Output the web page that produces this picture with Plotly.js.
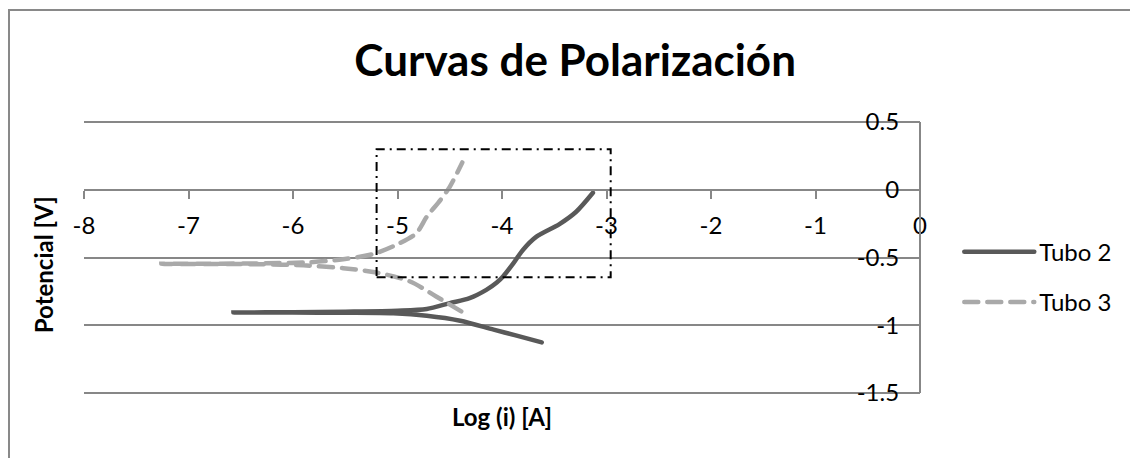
<!DOCTYPE html>
<html>
<head>
<meta charset="utf-8">
<script src="https://cdn.plot.ly/plotly-3.0.1.min.js"></script>
<style>
  body { margin: 0; background: #fff; }
  #chart { width: 1130px; height: 458px; }
  #frame {
    position: absolute; left: 8px; top: 9px; width: 1130px; height: 460px;
    border-left: 2px solid #898989; border-top: 2px solid #898989;
    pointer-events: none;
  }
  .scatterlayer path.js-line, .legend path.js-line { stroke-linecap: round; }
</style>
</head>
<body>
<div id="chart"></div>
<div id="frame"></div>
<script>
// Tubo 2: cathodic end -> minimum -> anodic end
const tubo2X = [-3.62, -3.86, -4.08, -4.40, -4.72, -5.04, -5.5, -6.0, -6.57,
                -6.0, -5.5, -5.0, -4.72, -4.50, -4.31, -4.15, -4.05, -3.99, -3.89, -3.80, -3.67, -3.45, -3.29, -3.13];
const tubo2Y = [-1.127, -1.077, -1.033, -0.967, -0.930, -0.912, -0.908, -0.907, -0.906,
                -0.904, -0.900, -0.893, -0.880, -0.837, -0.800, -0.739, -0.685, -0.640, -0.542, -0.444, -0.346, -0.253, -0.162, -0.022];

// Tubo 3
const tubo3X = [-4.39, -4.63, -4.88, -5.20, -5.52, -5.90, -6.30, -6.80, -7.26,
                -6.80, -6.30, -5.84, -5.52, -5.23, -4.98, -4.82, -4.72, -4.59, -4.50, -4.38];
const tubo3Y = [-0.898, -0.788, -0.677, -0.611, -0.579, -0.558, -0.550, -0.548, -0.547,
                -0.546, -0.543, -0.535, -0.513, -0.474, -0.395, -0.321, -0.199, -0.076, 0.022, 0.202];

const xTicks = [-8, -7, -6, -5, -4, -3, -2, -1, 0];
const xTickText = ['-8', '-7', '-6', '-5', '-4', '-3', '-2', '-1', '0'];
const yTicks = [-1.5, -1, -0.5, 0, 0.5];
const yTickText = ['-1.5', '-1', '-0.5', '0', '0.5'];

// dash-dot zoom box
const boxX = [-5.2, -2.96];
const boxY = [-0.645, 0.30];

const FONT = 'Lato, "Open Sans", sans-serif';
const GRID = '#878787';
const Y_RANGE = [-1.508, 0.508];   // small pad so the edge gridlines are not clipped
const X_AXIS_POS = (0 - Y_RANGE[0]) / (Y_RANGE[1] - Y_RANGE[0]);

const traces = [
  {
    name: 'Tubo 2', x: tubo2X, y: tubo2Y,
    type: 'scatter', mode: 'lines',
    line: { color: '#595959', width: 4.5, shape: 'spline', smoothing: 0.8 },
    legendgroup: 'a',
  },
  {
    name: 'Tubo 3', x: tubo3X, y: tubo3Y,
    type: 'scatter', mode: 'lines',
    line: { color: '#A9A9A9', width: 4.5, shape: 'spline', smoothing: 0.8, dash: '14px,9px' },
    legendgroup: 'b',
  },
];

const layout = {
  width: 1130, height: 458,
  margin: { l: 84, r: 210, t: 121, b: 64, pad: 0 },
  paper_bgcolor: '#fff', plot_bgcolor: '#fff',
  font: { family: FONT, size: 24, color: '#000' },
  title: {
    text: '<b>Curvas de Polarización</b>',
    font: { family: FONT, size: 44, color: '#000' },
    xref: 'container', yref: 'container',
    x: 0.509, y: 0.868, xanchor: 'center', yanchor: 'middle',
  },
  showlegend: true,
  legend: {
    x: 1.047, xanchor: 'left', y: 0.428, yanchor: 'middle',
    bgcolor: 'rgba(0,0,0,0)', font: { size: 24 },
    traceorder: 'grouped', tracegroupgap: 16, itemwidth: 70,
  },
  xaxis: {
    range: [-8, 0], anchor: 'free', position: X_AXIS_POS,
    tickvals: xTicks, ticktext: xTickText,
    showline: true, linecolor: GRID, linewidth: 2,
    ticks: 'outside', ticklen: 8, tickwidth: 2, tickcolor: GRID,
    showgrid: false, zeroline: false,
    ticklabelstandoff: 6,
  },
  // labels sit just left of the right-hand axis line (drawn as a shape below)
  yaxis: {
    range: Y_RANGE, side: 'left', anchor: 'free', position: 0.975,
    tickvals: yTicks, ticktext: yTickText,
    showline: false, ticks: '',
    showgrid: true, gridcolor: GRID, gridwidth: 2,
    zeroline: false,
  },
  shapes: [
    {
      type: 'line', xref: 'paper', yref: 'y',
      x0: 1, x1: 1, y0: yTicks[0], y1: yTicks[yTicks.length - 1],
      line: { color: GRID, width: 2 },
    },
    {
      type: 'rect', xref: 'x', yref: 'y',
      x0: boxX[0], x1: boxX[1], y0: boxY[0], y1: boxY[1],
      line: { color: '#000', width: 2, dash: '9px,5px,2px,5px' },
      fillcolor: 'rgba(0,0,0,0)',
    },
  ],
  annotations: [
    {
      text: '<b>Log (i) [A]</b>', xref: 'paper', yref: 'paper',
      x: 0.5, y: -0.081, xanchor: 'center', yanchor: 'middle',
      showarrow: false, font: { size: 24 },
    },
    {
      text: '<b>Potencial [V]</b>', xref: 'paper', yref: 'paper',
      x: -0.049, y: 0.472, xanchor: 'center', yanchor: 'middle',
      textangle: -90, showarrow: false, font: { size: 24 },
    },
  ],
};

Plotly.newPlot('chart', traces, layout, { displayModeBar: false, responsive: false });
</script>
</body>
</html>
